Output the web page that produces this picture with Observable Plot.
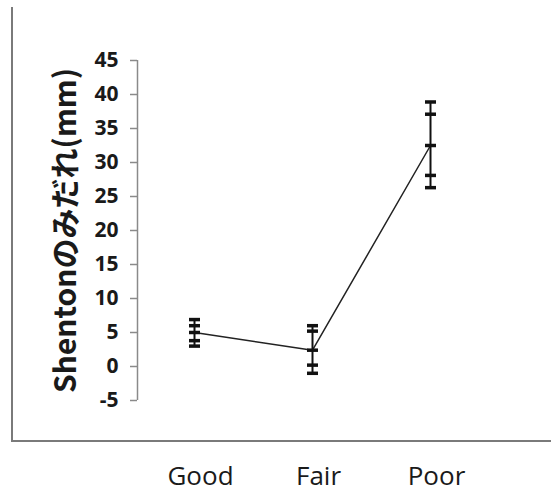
<!DOCTYPE html>
<html>
<head>
<meta charset="utf-8">
<script src="https://cdn.jsdelivr.net/npm/d3@7"></script>
<script src="https://cdn.jsdelivr.net/npm/@observablehq/plot@0.6"></script>
<style>
  html, body { margin: 0; padding: 0; background: #fff; }
  #wrap { position: relative; width: 555px; height: 493px; overflow: hidden; }
  #frame { position: absolute; left: 11px; top: 7px; width: 538px; height: 433px;
           border-left: 2px solid #7a7a7a; border-bottom: 2px solid #7a7a7a; pointer-events: none; }
</style>
</head>
<body>
<div id="wrap"><div id="chart"></div><div id="frame"></div></div>
<script>
const categories = ["Good", "Fair", "Poor"];
const means      = [5.0, 2.4, 32.5];
const outerLow   = [3.0, -1.0, 26.3];
const outerHigh  = [6.9, 6.0, 38.9];
const innerLow   = [3.8, 0.2, 28.1];
const innerHigh  = [6.0, 5.2, 37.1];
const yTicks     = [-5, 0, 5, 10, 15, 20, 25, 30, 35, 40, 45];
const yTitle     = "Shentonのみだれ(mm)";

const rows = categories.map((c, i) => ({
  cat: c, mean: means[i], lo1: outerLow[i], hi1: outerHigh[i], lo2: innerLow[i], hi2: innerHigh[i]
}));
const caps = rows.flatMap(r => [r.lo1, r.hi1, r.lo2, r.hi2, r.mean].map(v => ({cat: r.cat, v})));

const capSymbol = {
  draw(context, size) {
    const w = Math.sqrt(size / Math.PI);
    context.moveTo(-w, 0);
    context.lineTo(w, 0);
  }
};

const yMin = yTicks[0], yMax = yTicks[yTicks.length - 1];

const chart = Plot.plot({
  width: 555,
  height: 493,
  marginLeft: 137,
  marginRight: 20,
  marginTop: 60,
  marginBottom: 93,
  style: {fontFamily: "'Open Sans', sans-serif", background: "transparent", overflow: "visible"},
  x: {type: "point", domain: categories, range: [194, 430], padding: 0},
  y: {domain: [yMin, yMax]},
  marks: [
    // vertical axis line, placed at the plot's left edge (offset from the first category)
    Plot.ruleX([categories[0]], {x: d => d, y1: yMin, y2: yMax, dx: -57, stroke: "#8a8a8a", strokeWidth: 1.5}),
    Plot.axisY({ticks: yTicks, tickFormat: d => String(d), tickSize: 7, tickPadding: 12,
                stroke: "#8a8a8a", strokeWidth: 1.5,
                fill: "#1a1a1a", fontSize: 21, fontWeight: "bold", label: null}),
    Plot.axisX({tickSize: 0, tickPadding: 66, fontSize: 26, fill: "#1a1a1a", dx: 6, label: null}),
    Plot.text([yTitle], {frameAnchor: "left", rotate: -90, dx: -71, fontSize: 30, fontWeight: "bold",
                         fontFamily: "'Noto Sans CJK JP', sans-serif", fill: "#1a1a1a", textAnchor: "middle"}),
    Plot.line(rows, {x: "cat", y: "mean", stroke: "#222", strokeWidth: 1.5}),
    Plot.ruleX(rows, {x: "cat", y1: "lo1", y2: "hi1", stroke: "#111", strokeWidth: 2}),
    Plot.dot(caps, {x: "cat", y: "v", symbol: capSymbol, r: 5.5, stroke: "#111", strokeWidth: 3.5, fill: "none"})
  ]
});
document.getElementById("chart").appendChild(chart);
</script>
</body>
</html>
